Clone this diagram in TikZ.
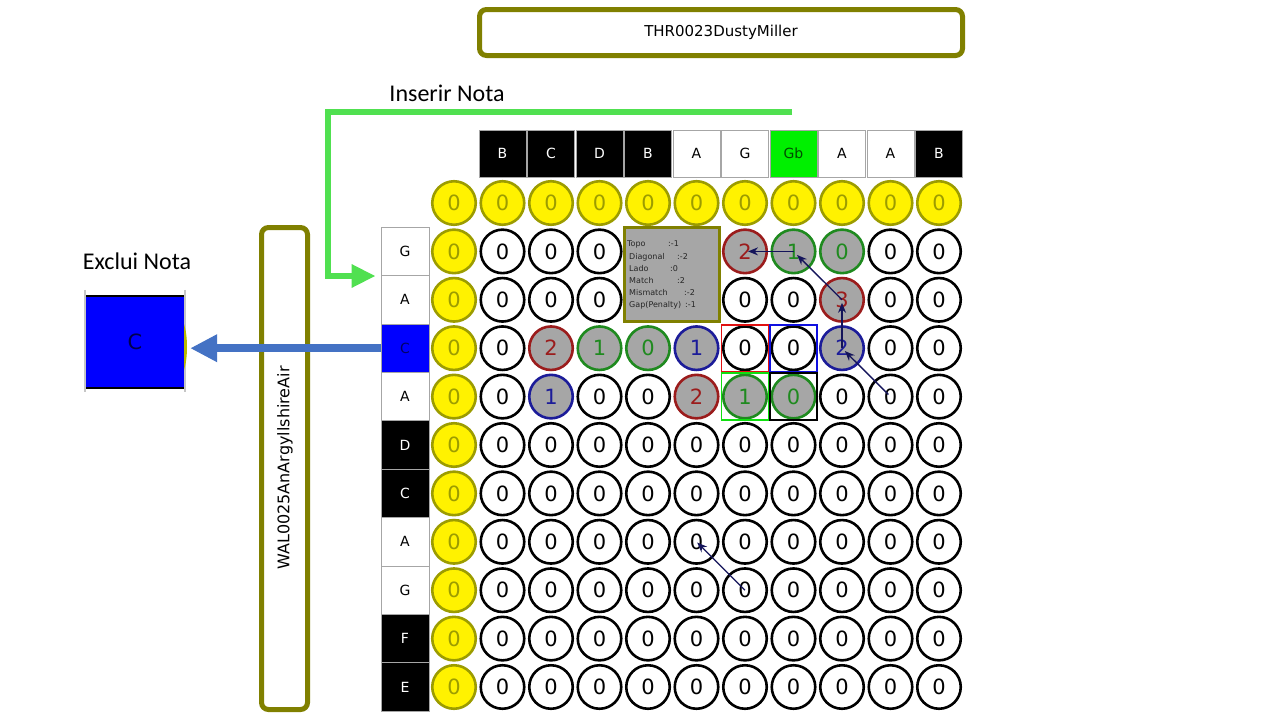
\documentclass[tikz,border=0pt]{standalone}
\usepackage{fontspec}
\setmainfont{DejaVu Sans}
\newfontfamily\calibrifont{Carlito}
\usetikzlibrary{arrows.meta}
\definecolor{oliveB}{HTML}{808000}
\definecolor{yelB}{HTML}{9C9C00}
\definecolor{cellgray}{HTML}{A6A6A6}
\definecolor{dred}{HTML}{9B1C1C}
\definecolor{dgreen}{HTML}{1F8A1F}
\definecolor{dblue}{HTML}{1C1C99}
\definecolor{navyA}{HTML}{14145A}
\definecolor{greenA}{HTML}{50E050}
\definecolor{blueA}{HTML}{4472C4}
\definecolor{gbgreen}{HTML}{00F000}
\definecolor{sqred}{HTML}{E01010}
\definecolor{sqblue}{HTML}{1010E0}
\definecolor{sqgreen}{HTML}{10E010}
\begin{document}
\begin{tikzpicture}[x=1pt,y=-1pt,
  cell/.style={circle,draw=black,line width=2.6pt,fill=white,minimum size=43.5pt,inner sep=0pt,
    font=\fontsize{21}{21}\selectfont,text=black,node contents=0},
  ycell/.style={cell,fill=yellow,draw=yelB,text=yelB},
  rc/.style={fill=cellgray,draw=dred,text=dred},
  gc/.style={fill=cellgray,draw=dgreen,text=dgreen},
  bc/.style={fill=cellgray,draw=dblue,text=dblue},
  cell 1-6/.style={rc,node contents=2},
  cell 1-7/.style={gc,node contents=1},
  cell 1-8/.style={gc,node contents=0},
  cell 2-8/.style={rc,node contents=3},
  cell 3-2/.style={rc,node contents=2},
  cell 3-3/.style={gc,node contents=1},
  cell 3-4/.style={gc,node contents=0},
  cell 3-5/.style={bc,node contents=1},
  cell 3-8/.style={bc,node contents=2},
  cell 4-2/.style={bc,node contents=1},
  cell 4-5/.style={rc,node contents=2},
  cell 4-6/.style={gc,node contents=1},
  cell 4-7/.style={gc,node contents=0},
  hbase/.style={rectangle,draw=gray!70,line width=0.8pt,minimum width=47pt,minimum height=47pt,inner sep=0pt,
    font=\fontsize{14}{14}\selectfont},
  hb/.style={hbase,fill=black,text=white},
  hw/.style={hbase,fill=white,text=black},
  hg/.style={hbase,fill=gbgreen,text=black!70!green},
  hbl/.style={hbase,fill=blue,text=blue!40!black},
  sqbox/.style={rectangle,line width=1.6pt,minimum size=47pt,inner sep=0pt},
  olivebox/.style={draw=oliveB,line width=5pt,rounded corners=7pt,fill=white,inner sep=0pt},
  navyarr/.style={navyA,line width=1.3pt,-{Stealth[length=10pt,width=8pt]}},
  infotxt/.style={anchor=west,inner sep=0pt,font=\fontsize{8}{8}\selectfont,text=black!85}
]
\useasboundingbox[fill=white] (0,0) rectangle (1280,720);

% title
\node[olivebox,minimum width=483pt,minimum height=46pt,font=\fontsize{15}{15}\selectfont] (title) at (721,32.5) {THR0023DustyMiller};

% vertical name box
\node[olivebox,minimum width=46pt,minimum height=482pt] (wal) at (284.5,468.5) {};
\node[rotate=90,font=\fontsize{16}{16}\selectfont,inner sep=0pt] (waltxt) at (285,468) {WAL0025AnArgyllshireAir};

% header row
\foreach \j/\l/\st in {1/B/hb,2/C/hb,3/D/hb,4/B/hb,5/A/hw,6/G/hw,7/Gb/hg,8/A/hw,9/A/hw,10/B/hb}
  \node[\st] (h-\j) at ({454+48.5*\j},153.5) {\l};

% left column
\foreach \i/\l/\st in {1/G/hw,2/A/hw,3/C/hbl,4/A/hw,5/D/hb,6/C/hb,7/A/hw,8/G/hw,9/F/hb,10/E/hb}
  \node[\st,minimum width=48pt,minimum height=48.4pt] (l-\i) at (405,{203+48.4*\i}) {\l};

% yellow row and column
\foreach \j in {0,...,10}
  \node (c-0-\j) at ({454+48.5*\j},203) [ycell];
\foreach \i in {1,...,10}
  \node (c-\i-0) at (454,{203+48.4*\i}) [ycell];

% grid (cells under the info box are not shown)
\foreach \i in {1,...,10}{
  \foreach \j in {1,...,10}{
    \pgfmathtruncatemacro\hidecell{(\i<3)&&(\j>3)&&(\j<6)}
    \ifnum\hidecell=0
      \node (c-\i-\j) at ({454+48.5*\j},{203+48.4*\i}) [cell,cell \i-\j/.try];
    \fi
  }
}

% highlight squares
\node[sqbox,draw=sqred] (sq-r) at (c-3-6) {};
\node[sqbox,draw=sqblue] (sq-b) at (c-3-7) {};
\node[sqbox,draw=sqgreen] (sq-g) at (c-4-6) {};
\node[sqbox,draw=black] (sq-k) at (c-4-7) {};

% info box
\node[fill=cellgray,draw=oliveB,line width=3pt,minimum width=95pt,minimum height=94pt,inner sep=0pt] (info) at (672,274.5) {};
\foreach \k/\a/\b/\xa/\xb/\yy in {1/Topo/:-1/627/668/244,2/Diagonal/:-2/629/677/257,3/Lado/:0/629/670/269,
    4/Match/:2/629/677/281,5/Mismatch/:-2/629/684/293,6/Gap(Penalty)/:-1/629/685/305}{
  \node[infotxt] (il-\k) at (\xa,\yy) {\a};
  \node[infotxt] (iv-\k) at (\xb,\yy) {\b};
}

% traceback arrows
\draw[navyarr,shorten >=3pt] (c-1-7.center) -- (c-1-6.center);
\draw[navyarr,shorten >=5pt] (c-2-8.center) -- (c-1-7.center);
\draw[navyarr,shorten >=3pt] (c-3-8.center) -- (c-2-8.center);
\draw[navyarr,shorten >=4pt,shorten <=3pt] (c-4-9.center) -- (c-3-8.center);
\draw[navyarr,shorten >=1pt] (c-8-6.center) -- (c-7-5.center);

% labels
\node[font=\calibrifont\fontsize{24}{24}\selectfont,inner sep=0pt] (ins) at (447,93) {Inserir Nota};
\node[font=\calibrifont\fontsize{24}{24}\selectfont,inner sep=0pt] (exl) at (137,261) {Exclui Nota};

% green insert arrow
\coordinate (gs) at (792,112);
\coordinate (gb) at (328,112);
\draw[greenA,line width=6.5pt,-{Triangle[length=24pt,width=22pt]},shorten >=5pt] (gs) -- (gb) |- (l-1.south west);

% deleted note box
\node[fill=blue,minimum width=100pt,minimum height=92pt,inner sep=0pt,font=\fontsize{21}{21}\selectfont,text=blue!30!black] (ex) at (135,342) {C};
\draw[black,line width=2.5pt] (ex.north west) -- (ex.north east);
\draw[black,line width=2.5pt] (ex.south west) -- (ex.south east);
\draw[gray!45,line width=2pt] ([yshift=6pt]ex.north west) -- ([yshift=-4pt]ex.south west);
\draw[gray!45,line width=2pt] ([yshift=6pt]ex.north east) -- ([yshift=-4pt]ex.south east);
\fill[yelB!70!yellow] (184,324) .. controls (188,336) and (188,358) .. (184,370) -- cycle;

% blue delete arrow
\draw[blueA,line width=8pt,-{Triangle[length=27pt,width=26pt]},shorten >=5pt] (l-3.west) -- (l-3.west -| ex.east);
\end{tikzpicture}
\end{document}
